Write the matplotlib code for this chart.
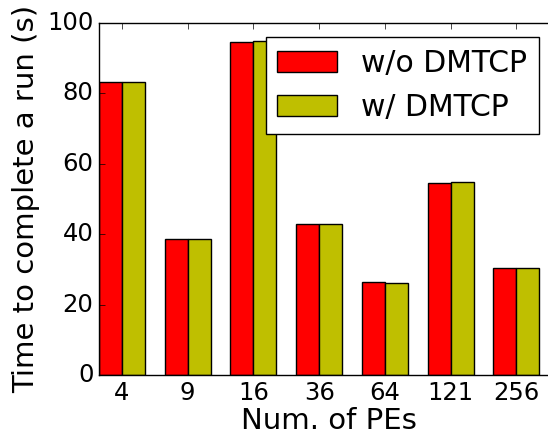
import numpy as np
import matplotlib
matplotlib.use('Agg')
from matplotlib import pyplot as plt

plt.style.use('classic')

pes = ['4', '9', '16', '36', '64', '121', '256']
without_dmtcp = [83.1, 38.7, 94.4, 42.9, 26.3, 54.4, 30.4]
with_dmtcp = [83.1, 38.7, 94.8, 42.9, 26.1, 54.8, 30.4]

width = 0.35
x = np.arange(len(pes))

fig = plt.figure(figsize=(5.48, 4.36), dpi=100, facecolor='white')
# axes run past the right edge of the figure, as in the original crop
ax = fig.add_axes([99 / 548., 61 / 436., 460 / 548., 352.3 / 436.])

ax.bar(x, without_dmtcp, width, align='edge', color='r', label='w/o DMTCP')
ax.bar(x + width, with_dmtcp, width, align='edge', color='y', label='w/ DMTCP')

ax.set_xticks(x + width)
ax.set_xticklabels(pes)
ax.set_xlim(0, 7)
ax.set_ylim(0, 100)
ax.tick_params(labelsize=17.5)

ax.set_xlabel('Num. of PEs', fontsize=21, labelpad=2)
ax.set_ylabel('Time to complete a run (s)', fontsize=21)
ax.legend(loc='upper right', fontsize=21.5, bbox_to_anchor=(539 / 548., 399 / 436.),
          bbox_transform=fig.transFigure, borderaxespad=0)

fig.savefig('out.png', dpi=100, facecolor='white')
